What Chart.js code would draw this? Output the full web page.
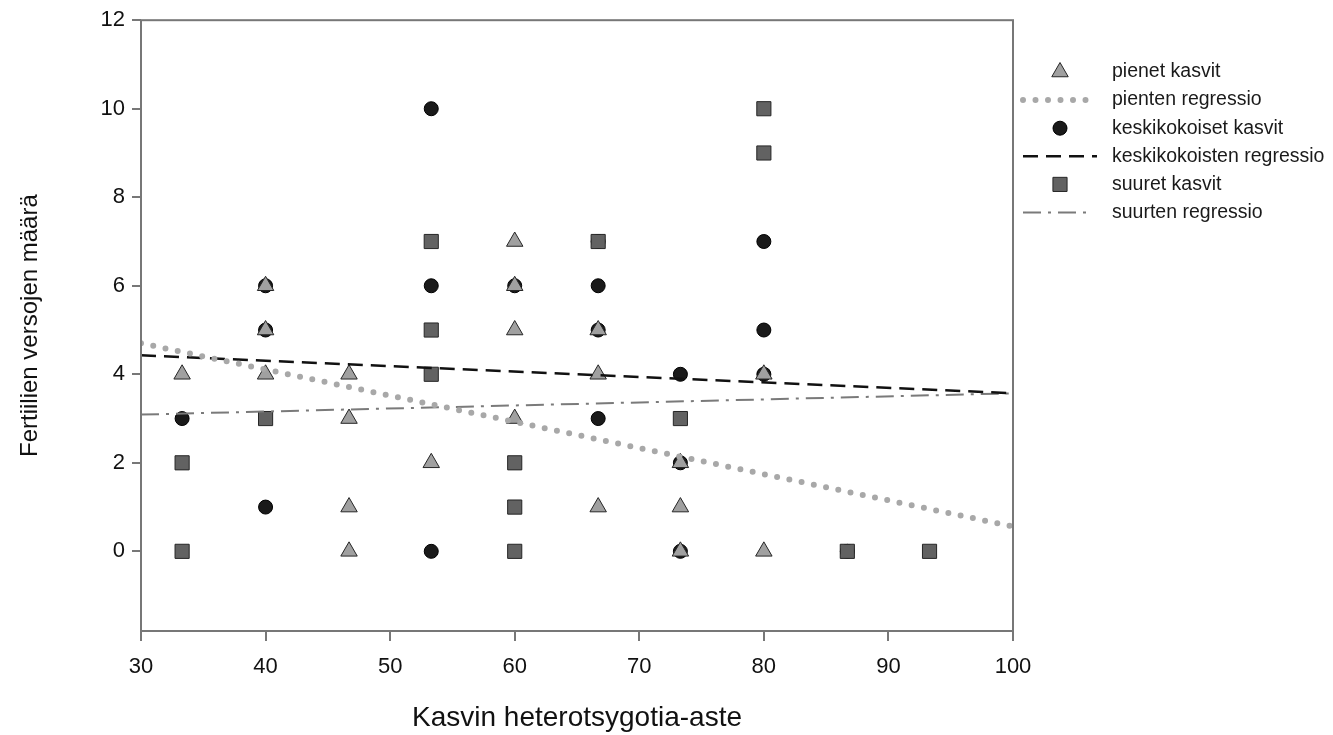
<!DOCTYPE html>
<html>
<head>
<meta charset="utf-8">
<script src="https://cdn.jsdelivr.net/npm/chart.js@4.4.1/dist/chart.umd.min.js"></script>
<style>
  html, body { margin: 0; padding: 0; background: #fff; }
  #wrap { width: 1333px; height: 735px; position: relative; }
</style>
</head>
<body>
<div id="wrap"><canvas id="chart"></canvas></div>
<script>
// pienet kasvit (triangles)
const smallX = [33.3, 40, 40, 40, 46.7, 46.7, 46.7, 46.7, 53.3, 60, 60, 60, 60, 66.7, 66.7, 66.7, 73.3, 73.3, 73.3, 80, 80];
const smallY = [4, 6, 5, 4, 4, 3, 1, 0, 2, 7, 6, 5, 3, 5, 4, 1, 2, 1, 0, 4, 0];
// keskikokoiset kasvit (circles)
const mediumX = [33.3, 40, 40, 40, 53.3, 53.3, 53.3, 60, 66.7, 66.7, 66.7, 66.7, 73.3, 73.3, 73.3, 80, 80, 80, 86.7];
const mediumY = [3, 6, 5, 1, 10, 6, 0, 6, 7, 6, 5, 3, 4, 2, 0, 7, 5, 4, 0];
// suuret kasvit (squares)
const largeX = [33.3, 33.3, 40, 53.3, 53.3, 53.3, 60, 60, 60, 66.7, 73.3, 80, 80, 86.7, 93.3];
const largeY = [2, 0, 3, 7, 5, 4, 2, 1, 0, 7, 3, 10, 9, 0, 0];
// regression lines, value at x = 30 and x = 100
const regX = [30, 100];
const smallReg = [4.7, 0.56];
const mediumReg = [4.43, 3.57];
const largeReg = [3.09, 3.57];

const xTicks = [30, 40, 50, 60, 70, 80, 90, 100];
const yTicks = [0, 2, 4, 6, 8, 10, 12];

const legendLabels = ['pienet kasvit', 'pienten regressio', 'keskikokoiset kasvit',
                      'keskikokoisten regressio', 'suuret kasvit', 'suurten regressio'];

const FONT = "'Liberation Sans', Arial, sans-serif";

function pts(xs, ys) {
    return xs.map((x, i) => ({ x: x, y: ys[i] }));
}

const styles = [
    { pointStyle: 'triangle', radius: 9.5, fill: '#a0a0a0', stroke: '#262626' },
    { line: true, color: '#a8a8a8', width: 6, dash: [0, 12.5], cap: 'round' },
    { pointStyle: 'circle', radius: 7, fill: '#1a1a1a', stroke: '#000' },
    { line: true, color: '#111', width: 2.5, dash: [15, 8], cap: 'butt' },
    { pointStyle: 'rect', radius: 10, fill: '#626262', stroke: '#262626' },
    { line: true, color: '#7a7a7a', width: 2, dash: [18, 7, 3, 7], cap: 'butt' }
];

function scatterSet(label, data, st, order) {
    return {
        type: 'scatter', label: label, data: data, order: order,
        pointStyle: st.pointStyle, pointRadius: st.radius, pointHoverRadius: st.radius,
        backgroundColor: st.fill, borderColor: st.stroke, borderWidth: 1
    };
}
function lineSet(label, ys, st) {
    return {
        type: 'line', label: label, data: pts(regX, ys), order: 0,
        borderColor: st.color, borderWidth: st.width, borderDash: st.dash,
        borderCapStyle: st.cap, pointRadius: 0, fill: false, tension: 0
    };
}

// frame round the plot area
const framePlugin = {
    id: 'frame',
    afterDraw(chart) {
        const a = chart.chartArea, ctx = chart.ctx;
        ctx.save();
        ctx.strokeStyle = '#777';
        ctx.lineWidth = 2;
        ctx.strokeRect(a.left, a.top, a.right - a.left, a.bottom - a.top);
        ctx.restore();
    }
};

// legend with marker and line samples
const legendPlugin = {
    id: 'sideLegend',
    afterDraw(chart) {
        const ctx = chart.ctx;
        const x0 = 1060, textX = 1112, y0 = 72, step = 28.1;
        ctx.save();
        legendLabels.forEach((label, i) => {
            const st = styles[i];
            const y = y0 + i * step;
            if (st.line) {
                ctx.save();
                ctx.strokeStyle = st.color;
                ctx.lineWidth = st.width;
                ctx.setLineDash(st.dash);
                ctx.lineCap = st.cap;
                ctx.beginPath();
                ctx.moveTo(1023, y);
                ctx.lineTo(i === 3 ? 1097 : 1090, y);
                ctx.stroke();
                ctx.restore();
            } else {
                ctx.fillStyle = st.fill;
                ctx.strokeStyle = st.stroke;
                ctx.lineWidth = 1;
                Chart.helpers.drawPoint(ctx, { pointStyle: st.pointStyle, radius: st.radius, rotation: 0, borderWidth: 1 }, x0, y);
            }
            ctx.fillStyle = '#1a1a1a';
            ctx.font = '19.5px ' + FONT;
            ctx.textBaseline = 'middle';
            ctx.textAlign = 'left';
            ctx.fillText(label, textX, y);
        });
        ctx.restore();
    }
};

new Chart(document.getElementById('chart'), {
    type: 'scatter',
    data: {
        datasets: [
            scatterSet(legendLabels[0], pts(smallX, smallY), styles[0], 2),
            lineSet(legendLabels[1], smallReg, styles[1]),
            scatterSet(legendLabels[2], pts(mediumX, mediumY), styles[2], 3),
            lineSet(legendLabels[3], mediumReg, styles[3]),
            scatterSet(legendLabels[4], pts(largeX, largeY), styles[4], 1),
            lineSet(legendLabels[5], largeReg, styles[5])
        ]
    },
    options: {
        responsive: true,
        maintainAspectRatio: false,
        animation: false,
        layout: { padding: { left: 0, top: 20, right: 320, bottom: 0 } },
        plugins: {
            legend: { display: false },
            tooltip: { enabled: false }
        },
        scales: {
            x: {
                type: 'linear', min: 30, max: 100,
                afterFit: s => { s.height = 104; },
                afterBuildTicks: s => { s.ticks = xTicks.map(v => ({ value: v })); },
                grid: { drawOnChartArea: false, drawTicks: true, tickLength: 10, color: '#777', lineWidth: 2 },
                border: { display: false },
                ticks: { color: '#111', padding: 13, maxRotation: 0, font: { family: FONT, size: 22 } },
                title: { display: true, text: 'Kasvin heterotsygotia-aste', color: '#111',
                         font: { family: FONT, size: 28 }, padding: { top: 0, bottom: 0 } }
            },
            y: {
                type: 'linear', min: -1.8, max: 12,
                afterFit: s => { s.width = 141; },
                afterBuildTicks: s => { s.ticks = yTicks.map(v => ({ value: v })); },
                grid: { drawOnChartArea: false, drawTicks: true, tickLength: 9, color: '#777', lineWidth: 2 },
                border: { display: false },
                ticks: { color: '#111', padding: 7, font: { family: FONT, size: 22 } },
                title: { display: true, text: 'Fertiilien versojen määrä', color: '#111',
                         font: { family: FONT, size: 24 }, padding: { top: 16, bottom: 0 } }
            }
        }
    },
    plugins: [framePlugin, legendPlugin]
});
</script>
</body>
</html>
